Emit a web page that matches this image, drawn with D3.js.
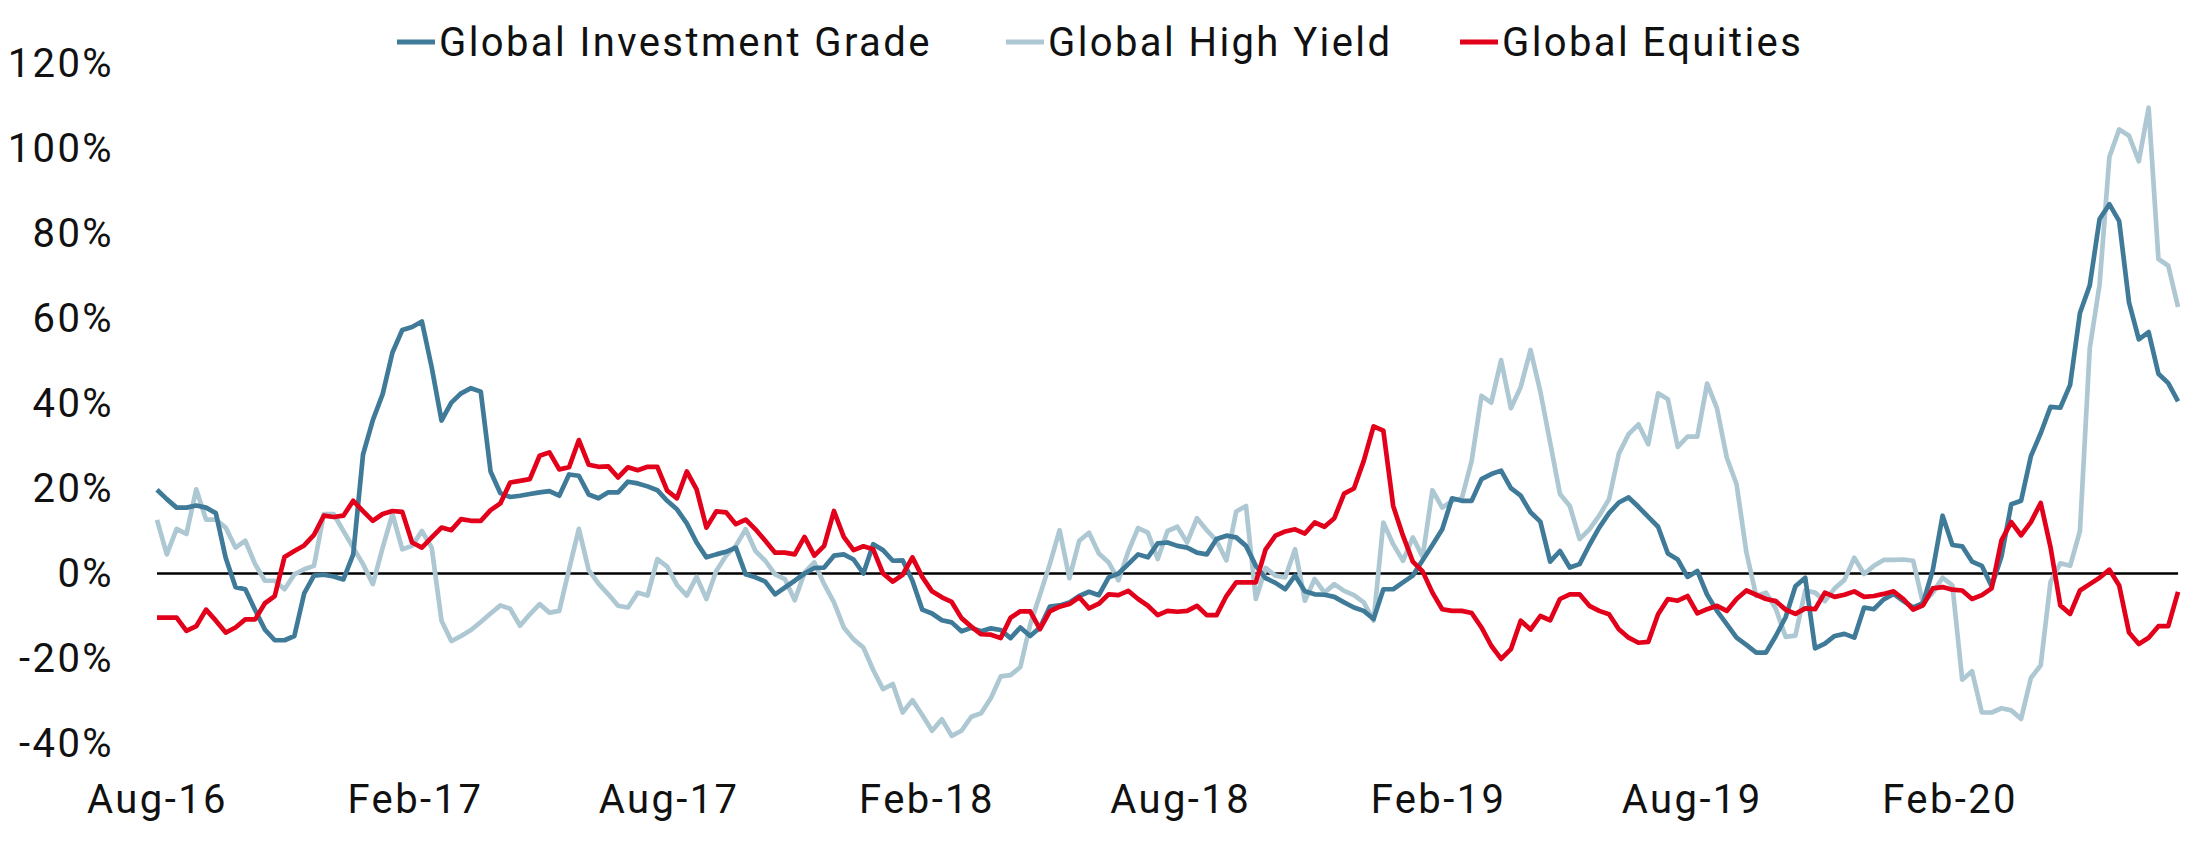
<!DOCTYPE html>
<html>
<head>
<meta charset="utf-8">
<script src="https://cdn.jsdelivr.net/npm/d3@7"></script>
<style>
  html, body { margin: 0; padding: 0; background: #ffffff; }
  svg { display: block; }
  text { font-family: Roboto, "Noto Sans", sans-serif; fill: #111; }
</style>
</head>
<body>
<svg id="chart" width="2200" height="850"></svg>
<script>
// ---------------- DATA ----------------
const seriesNames = ["Global Investment Grade", "Global High Yield", "Global Equities"];
const seriesColors = ["#3f7a99", "#adc8d3", "#e2001a"];

// weekly observations starting 1 Aug 2016
const startDate = new Date(2016, 7, 1);
const stepDays = 7;

const globalIG = [
 19.7,17.5,15.5,15.5,16,15.5,14.2,3.7,-3.2,-3.7,
 -8.6,-13.2,-15.7,-15.7,-14.7,-4.7,-0.5,-0.3,-0.7,-1.4,
 4.5,28,36.1,42.2,52,57.3,58,59.3,48.5,36,
 40.2,42.4,43.6,42.8,24,18.9,18,18.3,18.7,19.1,
 19.4,18.3,23.3,23,18.6,17.7,19.1,19.1,21.6,21.2,
 20.5,19.6,17.1,15.1,11.8,7.3,3.8,4.5,5.1,6.1,
 -0.2,-0.9,-1.9,-4.9,-3.3,-1.7,0,1.3,1.4,4.2,
 4.5,3.3,0,6.9,5.5,3,3.1,-1.7,-8.5,-9.4,
 -11,-11.5,-13.6,-12.8,-13.6,-12.9,-13.3,-15.2,-12.7,-14.7,
 -12.7,-7.8,-7.5,-6.8,-5.3,-4.3,-5.1,-0.9,0,2.2,
 4.5,3.8,7.1,7.3,6.5,6.1,4.9,4.5,8.1,8.9,
 8.5,6.5,1.8,-1.1,-2.2,-3.7,-0.5,-4.2,-4.9,-5,
 -5.5,-6.8,-8,-8.8,-10.7,-3.7,-3.7,-2.1,-0.5,3.1,
 6.7,10.4,17.7,17.1,17.1,22.2,23.4,24.2,20.1,18.3,
 14.4,12.2,2.8,5.3,1.4,2.2,6.7,10.8,14.2,16.7,
 17.9,15.7,13.3,11,4.7,3.3,-0.8,0.6,-5,-8.8,
 -11.9,-15.1,-16.8,-18.6,-18.6,-14.7,-10.3,-3,-1,-17.6,
 -16.5,-14.7,-14.2,-15.1,-8,-8.4,-6.1,-4.8,-6.5,-8,
 -7,0.8,13.6,6.7,6.4,2.8,1.8,-3,4,16.3,
 17.1,27.6,33,39.2,39,44.4,61.3,67.8,83.4,86.9,
 82.9,63.8,55.1,56.8,47,44.8,40.5
];

const globalHY = [
 12.6,4.5,10.5,9.3,19.8,12.7,12.7,10.8,6.1,7.7,
 2.2,-1.7,-1.7,-3.7,-0.2,1,1.8,14,14,10,
 6.1,2.2,-2.5,6.1,14,5.7,6.5,10,6.1,-11.1,
 -15.9,-14.7,-13.3,-11.4,-9.4,-7.5,-8.3,-12.3,-9.6,-7.2,
 -9.2,-8.8,1,10.5,0.8,-2.4,-4.9,-7.6,-8,-4.5,
 -5.2,3.4,1.6,-2.7,-5.2,-0.8,-6,0.6,4.2,6.5,
 10.4,5.3,3,-0.2,-1.3,-6.3,0.2,2.6,-2.5,-6.8,
 -12.7,-15.5,-17.4,-22.7,-27.2,-26,-32.7,-29.8,-33.3,-37,
 -34.3,-38.2,-37,-33.7,-32.9,-29.3,-24.2,-23.9,-22,-12,
 -5,2.2,10.2,-1.1,7.7,9.6,4.7,2.6,-1.6,5.2,
 10.7,9.6,3.4,10,11,7.3,13,10.2,7.7,3.1,
 14.6,15.9,-6,1.3,-0.5,-0.9,5.7,-6.4,-1.3,-4.5,
 -2.5,-4.1,-5.1,-6.8,-11.1,12,6.9,3,8.5,3.9,
 19.6,15.5,17.1,17.7,26.5,41.8,40.2,50.2,38.9,43.9,
 52.6,42.8,30.8,18.7,15.9,8.1,10.4,13.6,17.5,28.2,
 32.8,35.1,30.4,42.4,41,29.8,32.2,32.2,44.7,38.9,
 27.3,21,5,-5.3,-4.5,-8.3,-14.9,-14.6,-4,-4.5,
 -6.5,-3.5,-1.5,3.7,-0.1,1.8,3.2,3.2,3.3,3,
 -7,-4.5,-1,-2.8,-25,-23,-32.7,-32.7,-31.7,-32.2,
 -34.2,-24.6,-21.6,-2,2.4,1.8,10,53,68,98,
 104.5,103,97,109.6,74,72.4,62.7
];

const globalEquities = [
 -10.4,-10.4,-10.4,-13.5,-12.4,-8.5,-11.1,-13.9,-12.7,-10.8,
 -10.8,-7,-5.3,3.9,5.3,6.6,9.1,13.6,13.3,13.6,
 17.1,14.7,12.4,14,14.7,14.5,7.3,6.1,8.5,10.8,
 10.2,12.8,12.4,12.4,14.9,16.5,21.4,21.8,22.2,27.7,
 28.5,24.5,25,31.4,25.6,25.1,25.2,22.6,25,24.3,
 25.1,25.1,19.5,17.7,24,19.8,10.8,14.6,14.4,11.6,
 12.7,10.4,7.7,4.9,4.9,4.5,8.6,4.2,6.5,14.7,
 8.6,5.5,6.4,5.7,0,-1.9,-0.3,3.8,-0.8,-4.2,
 -5.6,-6.7,-10.5,-12.5,-14.3,-14.4,-15.2,-10.4,-8.9,-8.9,
 -13.1,-8.9,-7.8,-7.2,-5.6,-8.2,-7.1,-4.9,-5.1,-4.1,
 -6,-7.6,-9.8,-8.8,-9,-8.8,-7.6,-9.8,-9.8,-5.3,
 -2.1,-2.1,-2.1,5.7,8.9,9.9,10.4,9.4,12,11,
 13,18.8,20,26.5,34.6,33.6,15.9,8.9,2.8,0.5,
 -4.5,-8.4,-8.8,-8.8,-9.3,-12.7,-17,-20.1,-17.8,-11.1,
 -13.2,-10,-11,-6,-4.9,-4.9,-7.6,-8.8,-9.6,-13.1,
 -15.1,-16.3,-16.1,-9.6,-6,-6.4,-5.3,-9.4,-8.4,-7.6,
 -8.8,-6,-4,-5,-6,-6.5,-8.5,-9.5,-8.2,-8.4,
 -4.5,-5.5,-5,-4.2,-5.5,-5.3,-4.8,-4.2,-6,-8.5,
 -7.5,-3.5,-3.2,-3.8,-4,-6,-5.1,-3.5,7.8,12.1,
 9,12.1,16.6,6.2,-7.5,-9.5,-4,-2.5,-1,0.9,
 -2.8,-13.9,-16.6,-15.1,-12.4,-12.4,-4.3
];

const yTicks = [-40, -20, 0, 20, 40, 60, 80, 100, 120];
const xTickLabels = ["Aug-16", "Feb-17", "Aug-17", "Feb-18", "Aug-18", "Feb-19", "Aug-19", "Feb-20"];

// ---------------- BUILD ----------------
const parseTick = d3.timeParse("%b-%y");
const xTickDates = xTickLabels.map(parseTick);
const dates = globalIG.map((_, i) => d3.timeDay.offset(startDate, i * stepDays));
const allSeries = [globalIG, globalHY, globalEquities];

const svg = d3.select("#chart");
svg.append("rect").attr("width", 2200).attr("height", 850).attr("fill", "#fff");

const x = d3.scaleTime()
  .domain([new Date(2016, 7, 1), new Date(2020, 1, 1)])
  .range([157, 1949.6]);
const y = d3.scaleLinear().domain([-40, 120]).range([743.5, 63.5]);

const FONT = 40;
const LS = "2.4px";

// y axis labels
const yAxis = d3.axisLeft(y).tickValues(yTicks).tickFormat(d => d + "%").tickSize(0).tickPadding(0);
const gy = svg.append("g").attr("transform", "translate(114,0)").call(yAxis);
gy.select(".domain").remove();
gy.selectAll("text").style("font-size", FONT + "px").style("letter-spacing", LS)
  .style("font-family", "Roboto, 'Noto Sans', sans-serif").attr("fill", "#111");

// x axis labels
const xAxis = d3.axisBottom(x).tickValues(xTickDates).tickFormat(d3.timeFormat("%b-%y")).tickSize(0).tickPadding(0);
const gx = svg.append("g").attr("transform", "translate(0,785)").call(xAxis);
gx.select(".domain").remove();
gx.selectAll("text").style("font-size", FONT + "px").style("letter-spacing", LS)
  .style("font-family", "Roboto, 'Noto Sans', sans-serif").attr("fill", "#111");

// zero line
svg.append("line")
  .attr("x1", x(dates[0])).attr("x2", x(dates[dates.length - 1]))
  .attr("y1", y(0)).attr("y2", y(0))
  .attr("stroke", "#000").attr("stroke-width", 2.5);

// series lines (draw HY, IG, Equities order)
const line = d3.line().x((d, i) => x(dates[i])).y(d => y(d)).curve(d3.curveLinear);
[1, 0, 2].forEach(k => {
  svg.append("path")
    .datum(allSeries[k])
    .attr("d", line)
    .attr("fill", "none")
    .attr("stroke", seriesColors[k])
    .attr("stroke-width", 4.7)
    .attr("stroke-linejoin", "round")
    .attr("stroke-linecap", "butt");
});

// legend
const legendX = [397, 1006, 1460];
const legendY = 42;
const lg = svg.append("g");
seriesNames.forEach((name, k) => {
  lg.append("line")
    .attr("x1", legendX[k]).attr("x2", legendX[k] + 38)
    .attr("y1", legendY).attr("y2", legendY)
    .attr("stroke", seriesColors[k]).attr("stroke-width", 5);
  lg.append("text")
    .attr("x", legendX[k] + 42).attr("y", legendY)
    .attr("dy", "0.36em")
    .style("font-size", FONT + "px").style("letter-spacing", LS)
    .text(name);
});
</script>
</body>
</html>
